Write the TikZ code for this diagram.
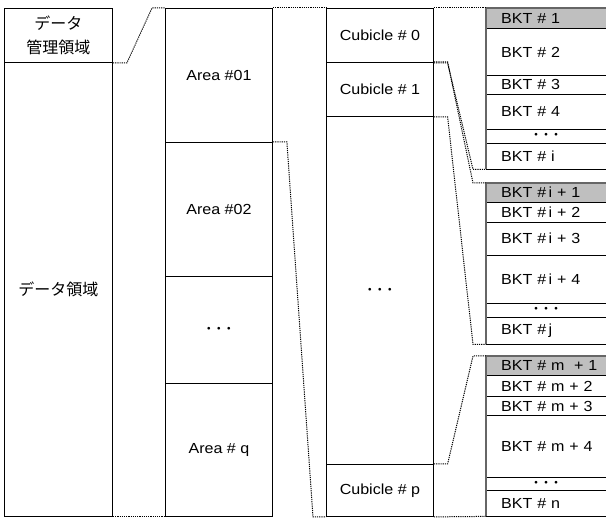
\documentclass[tikz,border=0pt]{standalone}
\usepackage{fontspec}
\setmainfont{Liberation Sans}[FakeStretch=1.1]
\newfontfamily\jp{Noto Sans CJK JP}
\usetikzlibrary{calc}
\begin{document}
\begin{tikzpicture}[x=1pt,y=-1pt,
  box/.style={draw=black, line width=0.9pt, inner sep=0pt, anchor=north west,
    minimum width=107, font=\fontsize{14.6}{16}\selectfont},
  bkt/.style={inner sep=0pt, inner xsep=15pt, text width=105pt, align=left,
    anchor=north west, font=\fontsize{14.6}{16}\selectfont},
  shade/.style={fill=black!25},
  sep/.style={draw=black, line width=0.9pt},
  gedge/.style={draw=black!60, line width=1.4pt},
  conn/.style={draw=black, line width=1pt, dash pattern=on 1.2pt off 1pt},
  dotsf/.style={font=\jp\bfseries\fontsize{10}{12}\selectfont}]
\useasboundingbox (0,0) rectangle (606,518);

% column 1
\node[box, minimum width=108, minimum height=54, align=center,
  font=\jp\fontsize{16}{24}\selectfont] (mgmt) at (4,8) {データ\\管理領域};
\node[box, minimum width=108, minimum height=454,
  font=\jp\fontsize{16}{20}\selectfont] (data) at (4,62) {データ領域};

% column 2
\node[box, minimum height=134] (a1) at (165,8) {Area \#01};
\node[box, minimum height=134] (a2) at (165,142) {Area \#02};
\node[box, minimum height=107, dotsf] (ad) at (165,276) {・・・};
\node[box, minimum height=133] (aq) at (165,383) {Area \# q};

% column 3
\node[box, minimum height=54] (c0) at (326,8) {Cubicle \# 0};
\node[box, minimum height=54] (c1) at (326,62) {Cubicle \# 1};
\node[box, minimum height=348, dotsf] (cd) at (326,116) {・・・};
\node[box, minimum height=52] (cp) at (326,464) {Cubicle \# p};

% BKT group 1
\node[bkt, shade, minimum height=20] (b1) at (486,8) {BKT \# 1};
\node[bkt, minimum height=47.5] (b2) at (486,28) {BKT \# 2};
\node[bkt, minimum height=18.5] (b3) at (486,75.5) {BKT \# 3};
\node[bkt, minimum height=35] (b4) at (486,94) {BKT \# 4};
\node[bkt, minimum height=14, dotsf] (bd1) at (486,129) {\hspace*{30pt}・・・};
\node[bkt, minimum height=26] (bi) at (486,143) {BKT \# i};

% BKT group 2
\node[bkt, shade, minimum height=19] (bi1) at (486,183) {BKT \#\,i + 1};
\node[bkt, minimum height=20] (bi2) at (486,202) {BKT \#\,i + 2};
\node[bkt, minimum height=33] (bi3) at (486,222) {BKT \#\,i + 3};
\node[bkt, minimum height=48] (bi4) at (486,255) {BKT \#\,i + 4};
\node[bkt, minimum height=14, dotsf] (bd2) at (486,303) {\hspace*{30pt}・・・};
\node[bkt, minimum height=27] (bj) at (486,317) {BKT \#\,j};

% BKT group 3
\node[bkt, shade, minimum height=19] (bm1) at (486,356) {BKT \# m\ \ + 1};
\node[bkt, minimum height=21.5] (bm2) at (486,375) {BKT \# m + 2};
\node[bkt, minimum height=19] (bm3) at (486,396.5) {BKT \# m + 3};
\node[bkt, minimum height=61.5] (bm4) at (486,415.5) {BKT \# m + 4};
\node[bkt, minimum height=13, dotsf] (bd3) at (486,477) {\hspace*{30pt}・・・};
\node[bkt, minimum height=26] (bn) at (486,490) {BKT \# n};

% separators
\foreach \n in {b1,b2,b3,b4,bd1,bi,bi1,bi2,bi3,bi4,bd2,bj,bm1,bm2,bm3,bm4,bd3,bn}
  \draw[sep] (\n.south west) -- (\n.south east);
\draw[gedge] (bi.south west) -- (b1.north west) -- (b1.north east);
\draw[gedge] (bj.south west) -- (bi1.north west) -- (bi1.north east);
\draw[gedge] (bn.south west) -- (bm1.north west) -- (bm1.north east);

% connectors
\draw[conn] (mgmt.south east) -- ++(14,0) -- ($(a1.north west)+(-13,0)$) -- (a1.north west);
\draw[conn] (data.south east) -- (aq.south west);
\draw[conn] (a1.north east) -- (c0.north west);
\draw[conn] (a2.north east) -- ++(14,0) -- ($(cp.south west)+(-13,0)$) -- (cp.south west);
\draw[conn] (c0.north east) -- (b1.north west);
\draw[conn] (c0.south east) -- ++(13.7,0) -- ($(bi.south west)+(-13,0)$) -- (bi.south west);
\draw[conn] (c1.north east) -- ++(13.7,0) -- ($(bi1.north west)+(-13,0)$) -- (bi1.north west);
\draw[conn] (c1.south east) -- ++(13.7,0) -- ($(bj.south west)+(-13,0)$) -- (bj.south west);
\draw[conn] (cp.north east) -- ++(13.7,0) -- ($(bm1.north west)+(-13,0)$) -- (bm1.north west);
\draw[conn] (cp.south east) -- (bn.south west);
\end{tikzpicture}
\end{document}
